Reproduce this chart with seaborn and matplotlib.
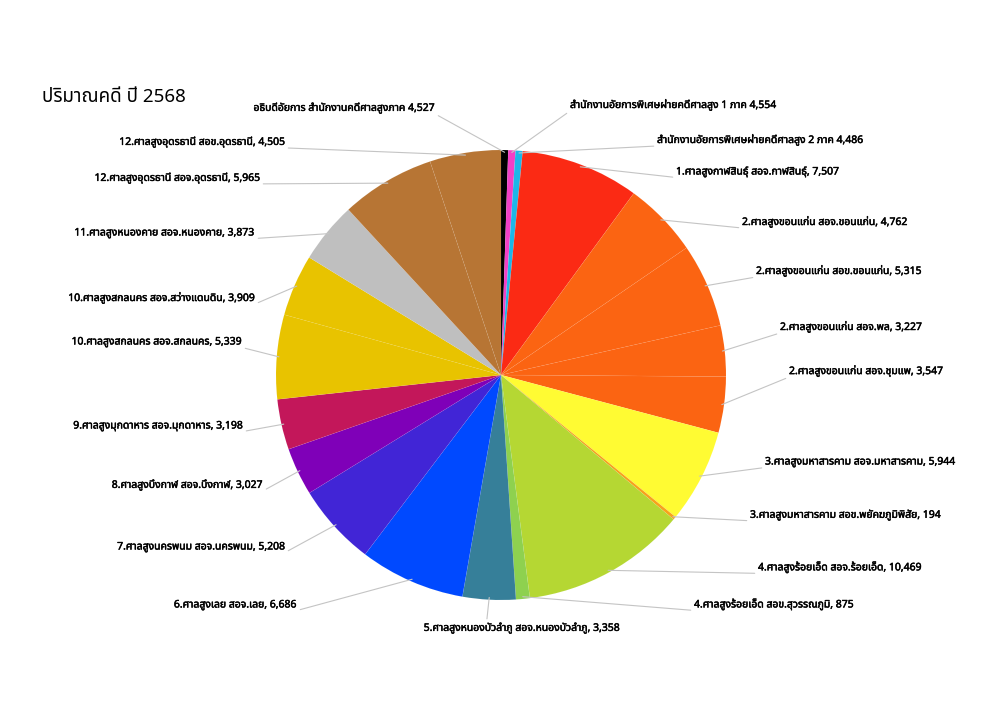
"""
    pie chart of case volume, year 2568
"""

import matplotlib
matplotlib.use("Agg")
import numpy as np
import matplotlib.pyplot as plt
import matplotlib.patheffects as pe
import seaborn as sns
from matplotlib import font_manager
from matplotlib.ft2font import FT2Font

# slices clockwise from 12 o'clock
names = [
    "อธิบดีอัยการ สำนักงานคดีศาลสูงภาค",
    "สำนักงานอัยการพิเศษฝ่ายคดีศาลสูง 1 ภาค",
    "สำนักงานอัยการพิเศษฝ่ายคดีศาลสูง 2 ภาค",
    "1.ศาลสูงกาฬสินธุ์ สอจ.กาฬสินธุ์",
    "2.ศาลสูงขอนแก่น สอจ.ขอนแก่น",
    "2.ศาลสูงขอนแก่น สอข.ขอนแก่น",
    "2.ศาลสูงขอนแก่น สอจ.พล",
    "2.ศาลสูงขอนแก่น สอจ.ชุมแพ",
    "3.ศาลสูงมหาสารคาม สอจ.มหาสารคาม",
    "3.ศาลสูงมหาสารคาม สอข.พยัคฆภูมิพิสัย",
    "4.ศาลสูงร้อยเอ็ด สอจ.ร้อยเอ็ด",
    "4.ศาลสูงร้อยเอ็ด สอข.สุวรรณภูมิ",
    "5.ศาลสูงหนองบัวลำภู สอจ.หนองบัวลำภู",
    "6.ศาลสูงเลย สอจ.เลย",
    "7.ศาลสูงนครพนม สอจ.นครพนม",
    "8.ศาลสูงบึงกาฬ สอจ.บึงกาฬ",
    "9.ศาลสูงมุกดาหาร สอจ.มุกดาหาร",
    "10.ศาลสูงสกลนคร สอจ.สกลนคร",
    "10.ศาลสูงสกลนคร สอจ.สว่างแดนดิน",
    "11.ศาลสูงหนองคาย สอจ.หนองคาย",
    "12.ศาลสูงอุดรธานี สอจ.อุดรธานี",
    "12.ศาลสูงอุดรธานี สอข.อุดรธานี",
]

# numbers printed in the labels
cases = [4527, 4554, 4486, 7507, 4762, 5315, 3227, 3547, 5944, 194, 10469,
         875, 3358, 6686, 5208, 3027, 3198, 5339, 3909, 3873, 5965, 4505]

# slice sizes as drawn (first three slices are drawn much thinner than their labels)
slice_sizes = [453, 455, 449, 7507, 4762, 5315, 3227, 3547, 5944, 194, 10469,
               875, 3358, 6686, 5208, 3027, 3198, 5339, 3909, 3873, 5965, 4505]

colors = ["#000000", "#F23FC6", "#1DB6E8", "#FB2A14", "#FB6412", "#FB6412",
          "#FB6412", "#FB6412", "#FFFB33", "#F7A21B", "#B5D733", "#8ED14F",
          "#367F99", "#0049FF", "#4125D6", "#7F00B8", "#C3175A", "#E8C300",
          "#E8C300", "#BFBFBF", "#B77534", "#B77534"]

title = "ปริมาณคดี ปี 2568"

# label anchors in pixels from the top-left corner: (x, y, side)
label_pos = [
    (435, 108, "r"), (570, 105, "l"), (657, 140, "l"), (676, 172, "l"),
    (742, 222, "l"), (756, 271, "l"), (780, 327, "l"), (789, 371, "l"),
    (765, 462, "l"), (750, 515, "l"), (758, 567, "l"), (694, 604, "l"),
    (522, 628, "c"), (297, 605, "r"), (285, 547, "r"), (263, 485, "r"),
    (243, 426, "r"), (242, 342, "r"), (255, 298, "r"), (255, 233, "r"),
    (260, 178, "r"), (285, 142, "r"),
]


def find_thai_font():
    """return the name of an installed family with thai glyphs"""
    preferred = ["Tahoma", "Noto Sans Thai", "Noto Sans Thai UI", "Loma",
                 "Garuda", "Sarabun", "Waree", "Umpush", "Kinnari", "Norasi"]
    found = []
    for f in font_manager.fontManager.ttflist:
        try:
            if 0x0E01 in FT2Font(f.fname).get_charmap():
                found.append(f.name)
        except Exception:
            pass
    for p in preferred:
        if p in found:
            return p
    return found[0] if found else None


W, H = 1000, 707
sns.set_theme(style="white")
thai = find_thai_font()
plt.rcParams["font.family"] = ([thai] if thai else []) + ["DejaVu Sans"]

fig = plt.figure(figsize=(W / 100, H / 100), dpi=100)
cx, cy, r = 501, 375, 225
ax = fig.add_axes([(cx - r) / W, (H - cy - r) / H, 2 * r / W, 2 * r / H])

wedges, _ = ax.pie(slice_sizes, colors=sns.color_palette(colors), startangle=90,
                   counterclock=False, radius=1,
                   wedgeprops=dict(linewidth=0.5, edgecolor=(1, 1, 1, 0.06)))
ax.set_xlim(-1, 1)
ax.set_ylim(-1, 1)
ax.set_aspect("equal")
ax.axis("off")

bolder = [pe.withStroke(linewidth=0.35, foreground="#000000")]
for w, name, n, (px, py, side) in zip(wedges, names, cases, label_pos):
    sep = ", " if name[0].isdigit() else " "
    text = name + sep + f"{n:,}"
    ang = np.deg2rad((w.theta1 + w.theta2) / 2)
    ha = {"l": "left", "r": "right", "c": "center"}[side]
    rel = {"l": (0, 0), "r": (1, 0), "c": (0.32, 1)}[side]
    ax.annotate(text, xy=(0.99 * np.cos(ang), 0.99 * np.sin(ang)), xycoords="data",
                xytext=(px, H - py), textcoords="figure pixels",
                ha=ha, va="center", fontsize=7.5, color="#000000",
                path_effects=bolder,
                arrowprops=dict(arrowstyle="-", color="#C4C4C4", lw=0.8,
                                shrinkA=0, shrinkB=0, relpos=rel))

fig.text(42 / W, (H - 97) / H, title, fontsize=13.5, ha="left", va="center",
         color="#000000")

fig.savefig("out.png", dpi=100, facecolor="white")
